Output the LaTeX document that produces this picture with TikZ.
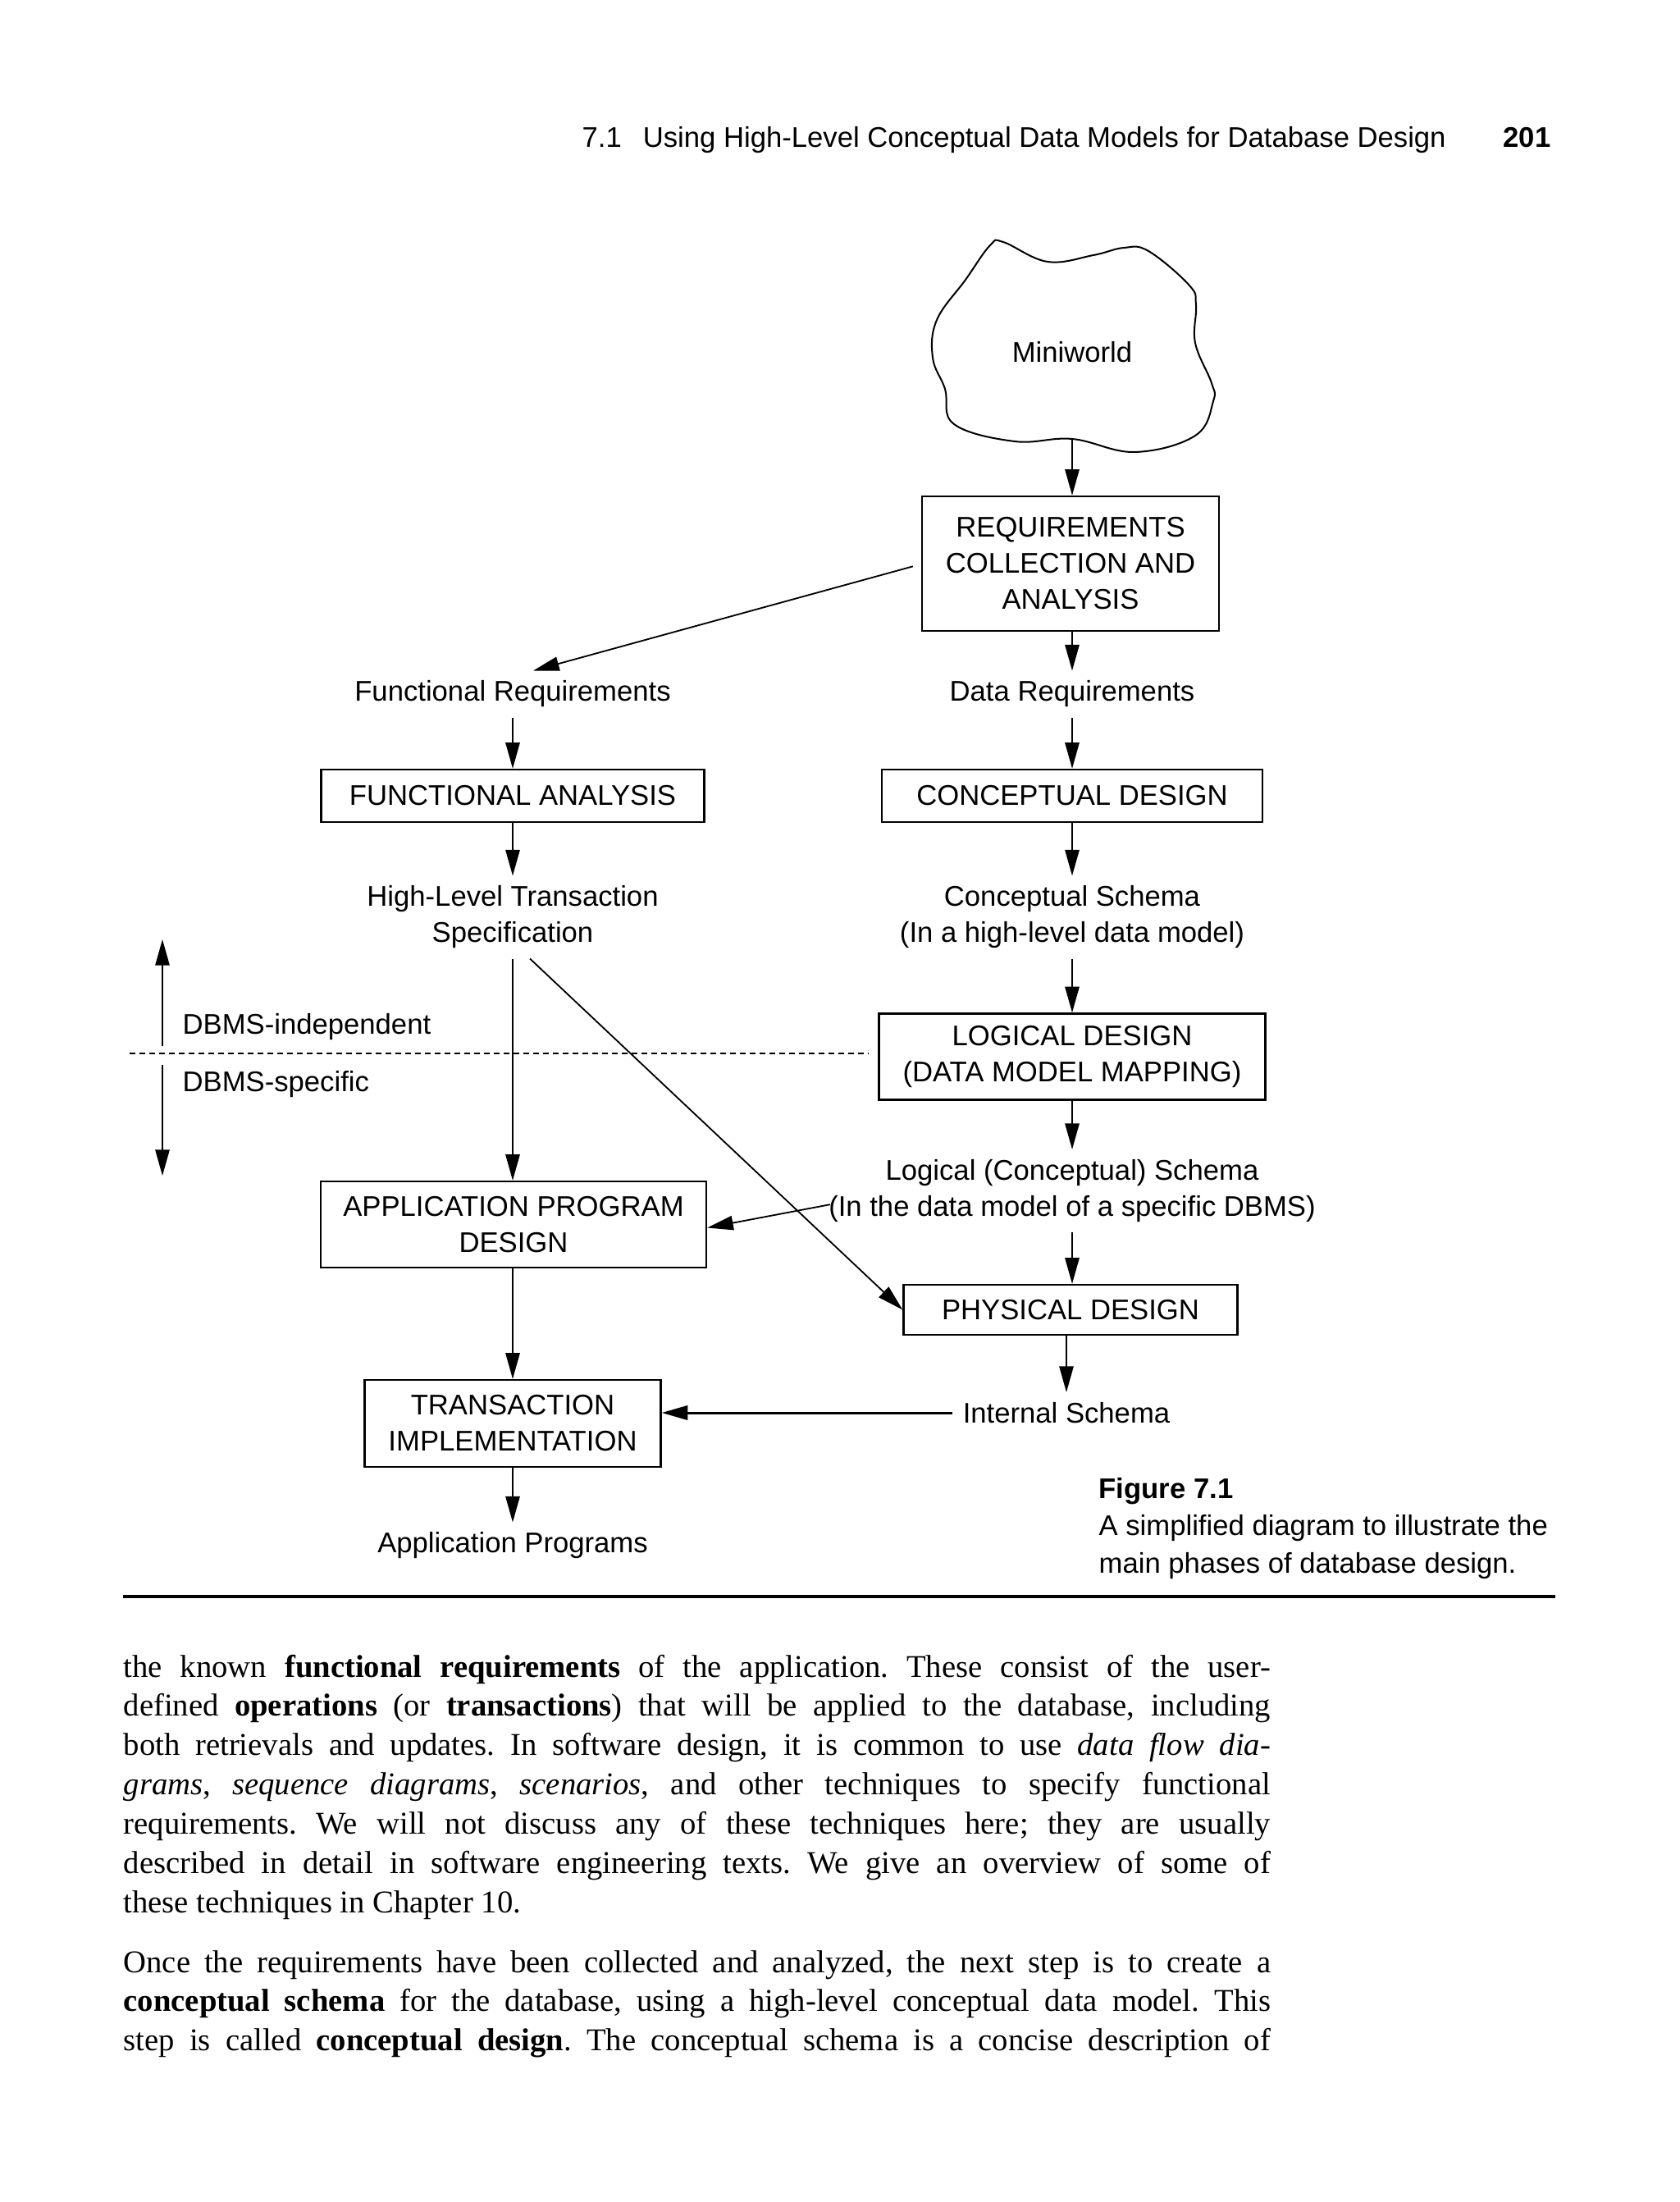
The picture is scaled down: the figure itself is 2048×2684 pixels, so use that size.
\documentclass[tikz,border=0pt]{standalone}
\usepackage{fontspec}
\setmainfont{Liberation Serif}
\setsansfont{Liberation Sans}
\usetikzlibrary{arrows.meta}
\newcommand\dgm{\sffamily\fontsize{10.4}{13.2}\selectfont}
\newcommand\bodyfnt{\rmfamily\fontsize{11.6}{14.35}\selectfont\frenchspacing}
\begin{document}
\begin{tikzpicture}[x=0.3pt,y=-0.3pt,
  box/.style={draw, line width=0.7pt, inner sep=0pt, font=\dgm, align=center},
  lbl/.style={font=\dgm, align=center, inner sep=3.5pt},
  arr/.style={line width=0.55pt, -{Triangle[length=9.5pt,width=5.2pt]}},
  side/.style={font=\dgm, anchor=base west, inner sep=0pt},
]
\fill[white] (0,0) rectangle (2048,2684);
\useasboundingbox (0,0) rectangle (2048,2684);

% header
\node[anchor=base west, inner sep=0pt, font=\sffamily\fontsize{10.4}{12}\selectfont] (hdr) at (709,179)
  {7.1\hspace{0.75em}Using High-Level Conceptual Data Models for Database Design};
\node[anchor=base west, inner sep=0pt, font=\sffamily\bfseries\fontsize{10.4}{12}\selectfont] (pg) at (1832,179) {201};

% cloud
\draw[line width=0.6pt] plot[smooth cycle, tension=0.65] coordinates {
 (1223,295) (1277,319) (1333,311) (1370,302) (1400,306) (1450,348) (1458,372)
 (1457,418) (1477,467) (1479,489) (1457,531) (1383,551) (1307,535) (1237,538)
 (1163,517) (1152,474) (1137,436) (1142,390) (1177,341) (1207,299)};
\node[lbl] (mw) at (1307,429) {Miniworld};
\coordinate (cb) at (1307,535);

% right column
\node[box, minimum width=108.6pt, minimum height=49.2pt] (req) at (1305,687) {REQUIREMENTS\\COLLECTION AND\\ANALYSIS};
\node[lbl] (dr) at (1307,846) {Data Requirements};
\node[box, minimum width=139.2pt, minimum height=19.2pt] (cd) at (1307,970) {CONCEPTUAL DESIGN};
\node[lbl] (cs) at (1307,1118) {Conceptual Schema\\(In a high-level data model)};
\node[box, minimum width=141.3pt, minimum height=31.5pt] (ld) at (1307,1288) {LOGICAL DESIGN\\(DATA MODEL MAPPING)};
\node[lbl] (ls) at (1307,1451.5) {Logical (Conceptual) Schema\\(In the data model of a specific DBMS)};
\node[box, minimum width=122.1pt, minimum height=18.3pt] (pd) at (1305,1596.5) {PHYSICAL DESIGN};
\node[lbl] (is) at (1300,1722) {Internal Schema};

% left column
\node[lbl] (fr) at (625,846) {Functional Requirements};
\node[box, minimum width=140.1pt, minimum height=19.2pt] (fa) at (625,970) {FUNCTIONAL ANALYSIS};
\node[lbl] (hlt) at (625,1118) {High-Level Transaction\\Specification};
\node[box, minimum width=141pt, minimum height=31.5pt] (apd) at (626,1492.5) {APPLICATION PROGRAM\\DESIGN};
\node[box, minimum width=108.3pt, minimum height=31.8pt] (ti) at (625,1735) {TRANSACTION\\IMPLEMENTATION};
\node[lbl] (ap) at (625,1884) {Application Programs};

% DBMS marker
\node[side] (di) at (222,1260) {DBMS-independent};
\node[side] (ds) at (222,1330) {DBMS-specific};
\coordinate (dbT) at (198,1145);
\coordinate (dbM1) at (198,1275);
\coordinate (dbM2) at (198,1298);
\coordinate (dbB) at (198,1433);
\draw[arr] (dbM1) -- (dbT);
\draw[arr] (dbM2) -- (dbB);
\draw[line width=0.5pt, dash pattern=on 2.2pt off 1.4pt] (158,1284) -- (1059,1284);

% connectors
\draw[arr] (cb) -- (cb |- req.north);
\draw[arr] (req.south -| dr) -- (dr.north);
\draw[arr] (dr.south) -- (dr.south |- cd.north);
\draw[arr] (cd.south) -- (cs.north);
\draw[arr] (cs.south) -- (ld.north);
\draw[arr] (ld.south) -- (ls.north);
\draw[arr] (ls.south) -- (ls.south |- pd.north);
\draw[arr] (pd.south -| is.north) -- (is.north);
\draw[arr] ([xshift=-3pt,yshift=-1pt]req.west) -- ([xshift=7.5pt]fr.north);
\draw[arr] (fr.south) -- (fa.north);
\draw[arr] (fa.south) -- (hlt.north);
\draw[arr] (hlt.south) -- (hlt.south |- apd.north);
\draw[arr] ([xshift=6.3pt]hlt.south) -- (pd.west);
\draw[arr] ([xshift=4.2pt,yshift=-5pt]ls.west) -- ([yshift=-1.2pt]apd.east);
\draw[arr] (apd.south -| ti.north) -- (ti.north);
\draw[arr, line width=0.9pt] (is.west) -- (is.west -| ti.east);
\draw[arr] (ti.south) -- (ap.north);

% caption
\node[anchor=base west, inner sep=0pt, font=\dgm] (cap) at (1339,1826)
  {\parbox[t]{200pt}{\setlength{\baselineskip}{13.65pt}\textbf{Figure 7.1}\\A simplified diagram to illustrate the\\main phases of database design.}};

\draw[line width=1pt] (150,1946) -- (1896,1946);

% body text
\node[anchor=base west, inner sep=0pt, font=\bodyfnt] (p1) at (150,2044)
 {\parbox[t]{419.5pt}{\setlength{\baselineskip}{14.35pt}%
 \makebox[419.5pt][s]{the known \textbf{functional requirements} of the application. These consist of the user-}\\
 \makebox[419.5pt][s]{defined \textbf{operations} (or \textbf{transactions}) that will be applied to the database, including}\\
 \makebox[419.5pt][s]{both retrievals and updates. In software design, it is common to use \textit{data flow dia-}}\\
 \makebox[419.5pt][s]{\textit{grams}, \textit{sequence diagrams}, \textit{scenarios}, and other techniques to specify functional}\\
 \makebox[419.5pt][s]{requirements. We will not discuss any of these techniques here; they are usually}\\
 \makebox[419.5pt][s]{described in detail in software engineering texts. We give an overview of some of}\\
 these techniques in Chapter 10.}};
\node[anchor=base west, inner sep=0pt, font=\bodyfnt] (p2) at (150,2404)
 {\parbox[t]{419.5pt}{\setlength{\baselineskip}{14.35pt}%
 \makebox[419.5pt][s]{Once the requirements have been collected and analyzed, the next step is to create a}\\
 \makebox[419.5pt][s]{\textbf{conceptual schema} for the database, using a high-level conceptual data model. This}\\
 \makebox[419.5pt][s]{step is called \textbf{conceptual design}. The conceptual schema is a concise description of}}};
\end{tikzpicture}
\end{document}
